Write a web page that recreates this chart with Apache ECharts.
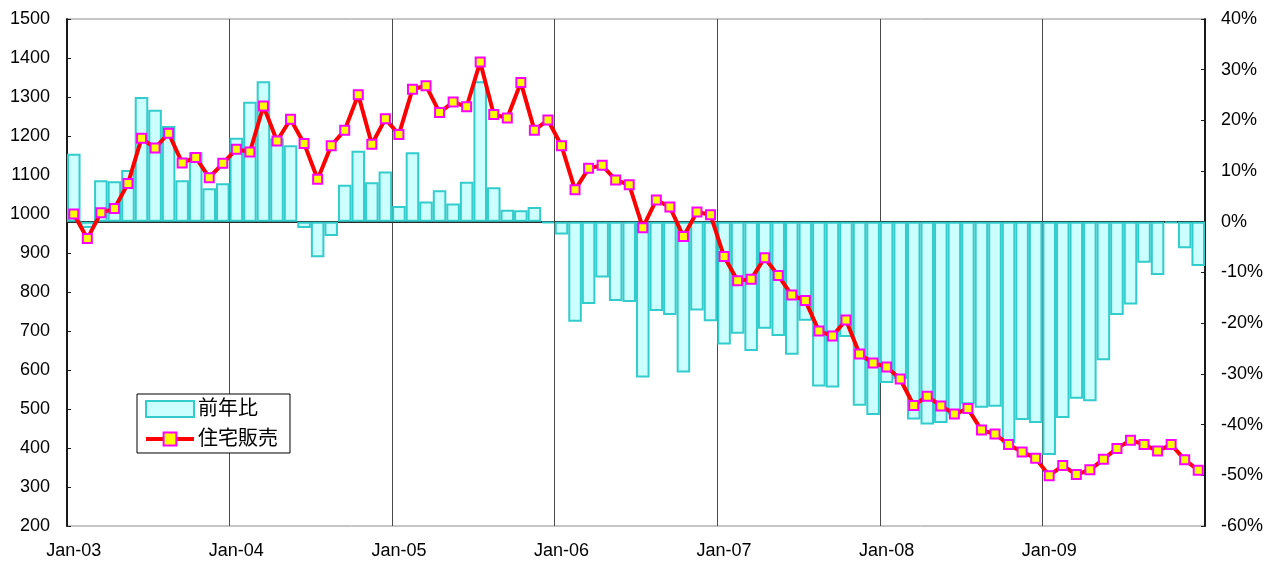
<!DOCTYPE html>
<html>
<head>
<meta charset="utf-8">
<script src="https://cdn.jsdelivr.net/npm/echarts@6/dist/echarts.min.js"></script>
<style>
  html, body { margin: 0; padding: 0; background: #fff; }
  #chart { width: 1271px; height: 566px; }
</style>
</head>
<body>
<div id="chart"></div>
<script>
// Monthly categories, Jan-03 through Dec-09
const monthNames = ['Jan', 'Feb', 'Mar', 'Apr', 'May', 'Jun', 'Jul', 'Aug', 'Sep', 'Oct', 'Nov', 'Dec'];
const years = ['03', '04', '05', '06', '07', '08', '09'];
const categories = [];
years.forEach(y => monthNames.forEach(m => categories.push(m + '-' + y)));

// Home sales (left axis)
const sales = [
  1000, 937, 1003, 1014, 1078, 1194, 1169, 1207, 1131, 1145, 1093, 1130,
  1166, 1159, 1277, 1187, 1243, 1181, 1089, 1175, 1215, 1306, 1179, 1244,
  1204, 1320, 1329, 1260, 1287, 1275, 1390, 1255, 1246, 1337, 1215, 1241,
  1175, 1062, 1117, 1125, 1087, 1075, 965, 1036, 1018, 942, 1005, 998,
  891, 829, 833, 888, 842, 792, 778, 700, 687, 728, 641, 618,
  608, 577, 509, 533, 508, 487, 501, 446, 436, 409, 390, 374,
  329, 355, 332, 344, 371, 399, 420, 409, 392, 409, 370, 343
];

// Year-over-year change in % (right axis)
const yoy = [
  13.4, -1.2, 8.2, 8.0, 10.2, 24.6, 22.1, 18.9, 8.2, 13.7, 6.6, 7.6,
  16.6, 23.7, 27.7, 16.5, 15.1, -1.2, -7.0, -2.8, 7.3, 14.0, 7.8, 9.9,
  3.1, 13.7, 4.0, 6.2, 3.6, 7.9, 27.7, 6.8, 2.4, 2.3, 2.9, -0.3,
  -2.5, -19.7, -16.2, -11.0, -15.6, -15.8, -30.7, -17.6, -18.4, -29.7, -17.5, -19.6,
  -24.2, -22.1, -25.5, -21.1, -22.5, -26.2, -19.5, -32.5, -32.7, -22.7, -36.3, -38.1,
  -31.8, -31.0, -39.0, -40.0, -39.7, -38.0, -36.0, -36.7, -36.5, -43.7, -39.1, -39.7,
  -46.0, -38.7, -34.9, -35.4, -27.3, -18.4, -16.3, -8.1, -10.5, -0.3, -5.2, -8.7
];

const seriesNames = ['前年比', '住宅販売'];

const FONT = '"Liberation Sans", Arial, "Noto Sans CJK JP", sans-serif';
const everyYear = idx => idx % 12 === 0;

const chart = echarts.init(document.getElementById('chart'), null, { renderer: 'canvas' });

chart.setOption({
  animation: false,
  backgroundColor: '#ffffff',
  textStyle: { fontFamily: FONT },
  grid: {
    left: 67, right: 66, top: 19, bottom: 40,
    show: true, borderColor: '#8c8c8c', borderWidth: 1, backgroundColor: 'transparent'
  },
  legend: {
    orient: 'vertical',
    left: 137, top: 394,
    padding: [5, 12, 4, 7],
    itemGap: 10,
    itemWidth: 48, itemHeight: 16,
    backgroundColor: '#ffffff',
    borderColor: '#000000', borderWidth: 1,
    textStyle: { fontSize: 20, color: '#000', fontFamily: FONT, padding: [0, 0, 0, -1] },
    data: [
      { name: seriesNames[0], icon: 'rect' },
      {
        name: seriesNames[1],
        lineStyle: { color: '#ff0000', width: 4 },
        itemStyle: { color: '#ffff00', borderColor: '#ff00ff', borderWidth: 2 }
      }
    ]
  },
  xAxis: {
    type: 'category',
    data: categories,
    boundaryGap: true,
    axisLine: { lineStyle: { color: '#2b2b2b', width: 2 } },
    axisTick: { show: false },
    axisLabel: {
      interval: 0,
      formatter: (v, idx) => everyYear(idx) ? v : '',
      color: '#000', fontSize: 18, margin: 16, fontFamily: FONT
    },
    splitLine: {
      show: true, interval: (idx) => everyYear(idx),
      lineStyle: { color: '#4a4a4a', width: 1 }
    }
  },
  yAxis: [
    {
      type: 'value',
      min: 200, max: 1500, interval: 100,
      position: 'left',
      axisLine: { show: true, lineStyle: { color: '#1a1a1a', width: 2 } },
      axisTick: { show: true, inside: true, length: 4, lineStyle: { color: '#1a1a1a' } },
      axisLabel: { color: '#000', fontSize: 18, margin: 17, fontFamily: FONT, formatter: v => String(v) },
      splitLine: { show: false }
    },
    {
      type: 'value',
      min: -60, max: 40, interval: 10,
      position: 'right',
      axisLine: { show: true, lineStyle: { color: '#1a1a1a', width: 2 } },
      axisTick: { show: true, inside: true, length: 4, lineStyle: { color: '#1a1a1a' } },
      axisLabel: { color: '#000', fontSize: 18, margin: 16, fontFamily: FONT, formatter: v => v + '%' },
      splitLine: { show: false }
    }
  ],
  series: [
    {
      name: seriesNames[0],
      type: 'bar',
      yAxisIndex: 1,
      data: yoy,
      barCategoryGap: 0,
      itemStyle: { color: '#ccffff', borderColor: '#33cccc', borderWidth: 2 },
      z: 2
    },
    {
      name: seriesNames[1],
      type: 'line',
      yAxisIndex: 0,
      data: sales,
      symbol: 'rect',
      symbolSize: 9,
      showAllSymbol: true,
      lineStyle: { color: '#ff0000', width: 4 },
      itemStyle: { color: '#ffff00', borderColor: '#ff00ff', borderWidth: 2 },
      z: 3
    }
  ]
});
</script>
</body>
</html>
